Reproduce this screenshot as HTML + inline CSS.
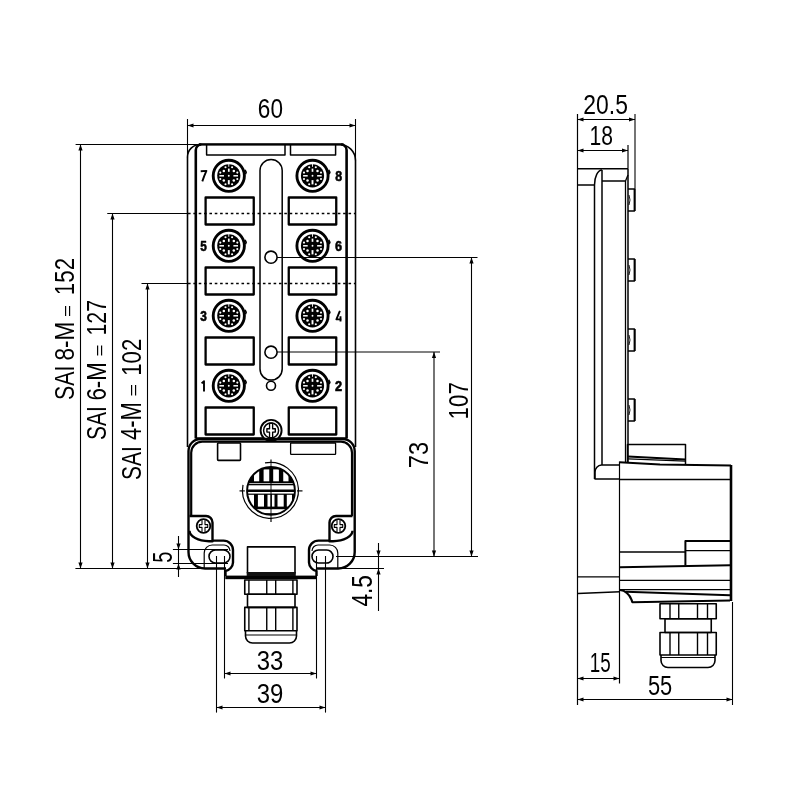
<!DOCTYPE html>
<html><head><meta charset="utf-8"><style>
html,body{margin:0;padding:0;background:#fff;width:800px;height:800px;overflow:hidden}
svg{display:block}
text{font-family:"Liberation Sans",sans-serif}
</style></head><body>
<svg width="800" height="800" viewBox="0 0 800 800">
<rect width="800" height="800" fill="#fff"/>
<g stroke="#000" fill="none" stroke-linecap="butt" stroke-linejoin="round" style="opacity:0.999">
<line x1="187.5" y1="119" x2="187.5" y2="158" stroke-width="1.1" />
<line x1="355.5" y1="119" x2="355.5" y2="161" stroke-width="1.1" />
<line x1="187.5" y1="125.5" x2="355.5" y2="125.5" stroke-width="1.1" />
<polygon points="187.50,125.50 193.50,123.40 193.50,127.60" fill="#000" stroke="none"/>
<polygon points="355.50,125.50 349.50,123.40 349.50,127.60" fill="#000" stroke="none"/>
<text transform="translate(259.00,99.00) scale(0.8106,1) translate(-1.39,19.47)" font-size="27.82" font-weight="normal" fill="#000" stroke="none">60</text>
<path d="M187.5,447 V157 A12.5,12.5 0 0 1 200,144.5 H339.5 A16,16 0 0 1 355.5,160.5 V447" stroke-width="1.6" fill="none" />
<line x1="199" y1="144.4" x2="343.5" y2="144.4" stroke-width="2.2" />
<path d="M195.8,438.5 V150 A5.5,5.5 0 0 1 201.3,144.5" stroke-width="2.6" fill="none" />
<path d="M346.6,438.5 V150 A5.5,5.5 0 0 0 341.1,144.5" stroke-width="2.6" fill="none" />
<path d="M206.6,144.4 V155 H285 V144.4" stroke-width="1.5" fill="none" />
<path d="M290.5,144.4 V155 H335.6 V144.4" stroke-width="1.5" fill="none" />
<path d="M260,170.6 A11.1,11.1 0 0 1 282.2,170.6 V369 A11.1,11.1 0 0 1 260,369 Z" stroke-width="1.5" fill="none" />
<rect x="205.6" y="197.5" width="48.150000000000006" height="27.0" rx="0" stroke-width="2.3" fill="none" />
<rect x="288.75" y="197.5" width="47.5" height="27.0" rx="0" stroke-width="2.3" fill="none" />
<rect x="205.6" y="267.5" width="48.150000000000006" height="27.0" rx="0" stroke-width="2.3" fill="none" />
<rect x="288.75" y="267.5" width="47.5" height="27.0" rx="0" stroke-width="2.3" fill="none" />
<rect x="205.6" y="337.5" width="48.150000000000006" height="27.0" rx="0" stroke-width="2.3" fill="none" />
<rect x="288.75" y="337.5" width="47.5" height="27.0" rx="0" stroke-width="2.3" fill="none" />
<rect x="205.6" y="407.5" width="48.150000000000006" height="27.0" rx="0" stroke-width="2.3" fill="none" />
<rect x="288.75" y="407.5" width="47.5" height="27.0" rx="0" stroke-width="2.3" fill="none" />
<line x1="107.25" y1="213.5" x2="187.5" y2="213.5" stroke-width="1.1" />
<line x1="188" y1="213.5" x2="355.25" y2="213.5" stroke-width="1.5" stroke-dasharray="2.6,2.75"/>
<line x1="141.5" y1="283.5" x2="187.5" y2="283.5" stroke-width="1.1" />
<line x1="188" y1="283.5" x2="355.25" y2="283.5" stroke-width="1.5" stroke-dasharray="2.6,2.75"/>
<circle cx="228.8" cy="175.8" r="15.6" stroke-width="2.9" fill="none" />
<path d="M245.0,169.8 l1.2,2.5 l-0.8,2" stroke-width="1.6" fill="none" />
<circle cx="228.8" cy="175.8" r="11.6" stroke-width="0" fill="#000" />
<rect x="227.95" y="168.60" width="1.70" height="3.20" fill="#fff" stroke="none"/>
<rect x="227.85" y="180.10" width="1.90" height="4.30" fill="#fff" stroke="none"/>
<rect x="219.40" y="175.05" width="4.60" height="1.50" fill="#fff" stroke="none"/>
<rect x="233.40" y="175.05" width="4.60" height="1.50" fill="#fff" stroke="none"/>
<rect x="228.35" y="164.00" width="0.90" height="2.80" fill="#fff" stroke="none"/>
<circle cx="223.80" cy="171.00" r="1.25" fill="#fff" stroke="none"/>
<circle cx="233.80" cy="171.00" r="1.25" fill="#fff" stroke="none"/>
<circle cx="223.80" cy="180.60" r="1.25" fill="#fff" stroke="none"/>
<circle cx="233.80" cy="180.60" r="1.25" fill="#fff" stroke="none"/>
<circle cx="228.80" cy="175.80" r="0.95" fill="#fff" stroke="none"/>
<circle cx="220.30" cy="172.60" r="1.05" fill="#fff" stroke="none"/>
<circle cx="237.30" cy="172.60" r="1.05" fill="#fff" stroke="none"/>
<circle cx="220.30" cy="179.00" r="1.05" fill="#fff" stroke="none"/>
<circle cx="237.30" cy="179.00" r="1.05" fill="#fff" stroke="none"/>
<circle cx="225.50" cy="167.30" r="1.05" fill="#fff" stroke="none"/>
<circle cx="232.10" cy="167.30" r="1.05" fill="#fff" stroke="none"/>
<circle cx="225.50" cy="184.30" r="1.05" fill="#fff" stroke="none"/>
<circle cx="232.10" cy="184.30" r="1.05" fill="#fff" stroke="none"/>
<circle cx="312.5" cy="175.8" r="15.6" stroke-width="2.9" fill="none" />
<path d="M328.7,169.8 l1.2,2.5 l-0.8,2" stroke-width="1.6" fill="none" />
<circle cx="312.5" cy="175.8" r="11.6" stroke-width="0" fill="#000" />
<rect x="311.65" y="168.60" width="1.70" height="3.20" fill="#fff" stroke="none"/>
<rect x="311.55" y="180.10" width="1.90" height="4.30" fill="#fff" stroke="none"/>
<rect x="303.10" y="175.05" width="4.60" height="1.50" fill="#fff" stroke="none"/>
<rect x="317.10" y="175.05" width="4.60" height="1.50" fill="#fff" stroke="none"/>
<rect x="312.05" y="164.00" width="0.90" height="2.80" fill="#fff" stroke="none"/>
<circle cx="307.50" cy="171.00" r="1.25" fill="#fff" stroke="none"/>
<circle cx="317.50" cy="171.00" r="1.25" fill="#fff" stroke="none"/>
<circle cx="307.50" cy="180.60" r="1.25" fill="#fff" stroke="none"/>
<circle cx="317.50" cy="180.60" r="1.25" fill="#fff" stroke="none"/>
<circle cx="312.50" cy="175.80" r="0.95" fill="#fff" stroke="none"/>
<circle cx="304.00" cy="172.60" r="1.05" fill="#fff" stroke="none"/>
<circle cx="321.00" cy="172.60" r="1.05" fill="#fff" stroke="none"/>
<circle cx="304.00" cy="179.00" r="1.05" fill="#fff" stroke="none"/>
<circle cx="321.00" cy="179.00" r="1.05" fill="#fff" stroke="none"/>
<circle cx="309.20" cy="167.30" r="1.05" fill="#fff" stroke="none"/>
<circle cx="315.80" cy="167.30" r="1.05" fill="#fff" stroke="none"/>
<circle cx="309.20" cy="184.30" r="1.05" fill="#fff" stroke="none"/>
<circle cx="315.80" cy="184.30" r="1.05" fill="#fff" stroke="none"/>
<path d="M200.7,171.20000000000002 L206.4,170.9 Q204.2,175.8 202.3,181.4" stroke-width="1.9" fill="none" />
<text transform="translate(335.55,170.50) scale(0.8093,1) translate(-0.46,10.75)" font-size="15.35" font-weight="bold" fill="#000" stroke="#000" stroke-width="0.60">8</text>
<circle cx="228.8" cy="245.8" r="15.6" stroke-width="2.9" fill="none" />
<path d="M245.0,239.8 l1.2,2.5 l-0.8,2" stroke-width="1.6" fill="none" />
<circle cx="228.8" cy="245.8" r="11.6" stroke-width="0" fill="#000" />
<rect x="227.95" y="238.60" width="1.70" height="3.20" fill="#fff" stroke="none"/>
<rect x="227.85" y="250.10" width="1.90" height="4.30" fill="#fff" stroke="none"/>
<rect x="219.40" y="245.05" width="4.60" height="1.50" fill="#fff" stroke="none"/>
<rect x="233.40" y="245.05" width="4.60" height="1.50" fill="#fff" stroke="none"/>
<rect x="228.35" y="234.00" width="0.90" height="2.80" fill="#fff" stroke="none"/>
<circle cx="223.80" cy="241.00" r="1.25" fill="#fff" stroke="none"/>
<circle cx="233.80" cy="241.00" r="1.25" fill="#fff" stroke="none"/>
<circle cx="223.80" cy="250.60" r="1.25" fill="#fff" stroke="none"/>
<circle cx="233.80" cy="250.60" r="1.25" fill="#fff" stroke="none"/>
<circle cx="228.80" cy="245.80" r="0.95" fill="#fff" stroke="none"/>
<circle cx="220.30" cy="242.60" r="1.05" fill="#fff" stroke="none"/>
<circle cx="237.30" cy="242.60" r="1.05" fill="#fff" stroke="none"/>
<circle cx="220.30" cy="249.00" r="1.05" fill="#fff" stroke="none"/>
<circle cx="237.30" cy="249.00" r="1.05" fill="#fff" stroke="none"/>
<circle cx="225.50" cy="237.30" r="1.05" fill="#fff" stroke="none"/>
<circle cx="232.10" cy="237.30" r="1.05" fill="#fff" stroke="none"/>
<circle cx="225.50" cy="254.30" r="1.05" fill="#fff" stroke="none"/>
<circle cx="232.10" cy="254.30" r="1.05" fill="#fff" stroke="none"/>
<circle cx="312.5" cy="245.8" r="15.6" stroke-width="2.9" fill="none" />
<path d="M328.7,239.8 l1.2,2.5 l-0.8,2" stroke-width="1.6" fill="none" />
<circle cx="312.5" cy="245.8" r="11.6" stroke-width="0" fill="#000" />
<rect x="311.65" y="238.60" width="1.70" height="3.20" fill="#fff" stroke="none"/>
<rect x="311.55" y="250.10" width="1.90" height="4.30" fill="#fff" stroke="none"/>
<rect x="303.10" y="245.05" width="4.60" height="1.50" fill="#fff" stroke="none"/>
<rect x="317.10" y="245.05" width="4.60" height="1.50" fill="#fff" stroke="none"/>
<rect x="312.05" y="234.00" width="0.90" height="2.80" fill="#fff" stroke="none"/>
<circle cx="307.50" cy="241.00" r="1.25" fill="#fff" stroke="none"/>
<circle cx="317.50" cy="241.00" r="1.25" fill="#fff" stroke="none"/>
<circle cx="307.50" cy="250.60" r="1.25" fill="#fff" stroke="none"/>
<circle cx="317.50" cy="250.60" r="1.25" fill="#fff" stroke="none"/>
<circle cx="312.50" cy="245.80" r="0.95" fill="#fff" stroke="none"/>
<circle cx="304.00" cy="242.60" r="1.05" fill="#fff" stroke="none"/>
<circle cx="321.00" cy="242.60" r="1.05" fill="#fff" stroke="none"/>
<circle cx="304.00" cy="249.00" r="1.05" fill="#fff" stroke="none"/>
<circle cx="321.00" cy="249.00" r="1.05" fill="#fff" stroke="none"/>
<circle cx="309.20" cy="237.30" r="1.05" fill="#fff" stroke="none"/>
<circle cx="315.80" cy="237.30" r="1.05" fill="#fff" stroke="none"/>
<circle cx="309.20" cy="254.30" r="1.05" fill="#fff" stroke="none"/>
<circle cx="315.80" cy="254.30" r="1.05" fill="#fff" stroke="none"/>
<text transform="translate(200.55,240.70) scale(0.7867,1) translate(-0.45,10.35)" font-size="15.00" font-weight="bold" fill="#000" stroke="#000" stroke-width="0.60">5</text>
<text transform="translate(335.55,240.50) scale(0.8260,1) translate(-0.54,10.75)" font-size="15.35" font-weight="bold" fill="#000" stroke="#000" stroke-width="0.60">6</text>
<circle cx="228.8" cy="315.8" r="15.6" stroke-width="2.9" fill="none" />
<path d="M245.0,309.8 l1.2,2.5 l-0.8,2" stroke-width="1.6" fill="none" />
<circle cx="228.8" cy="315.8" r="11.6" stroke-width="0" fill="#000" />
<rect x="227.95" y="308.60" width="1.70" height="3.20" fill="#fff" stroke="none"/>
<rect x="227.85" y="320.10" width="1.90" height="4.30" fill="#fff" stroke="none"/>
<rect x="219.40" y="315.05" width="4.60" height="1.50" fill="#fff" stroke="none"/>
<rect x="233.40" y="315.05" width="4.60" height="1.50" fill="#fff" stroke="none"/>
<rect x="228.35" y="304.00" width="0.90" height="2.80" fill="#fff" stroke="none"/>
<circle cx="223.80" cy="311.00" r="1.25" fill="#fff" stroke="none"/>
<circle cx="233.80" cy="311.00" r="1.25" fill="#fff" stroke="none"/>
<circle cx="223.80" cy="320.60" r="1.25" fill="#fff" stroke="none"/>
<circle cx="233.80" cy="320.60" r="1.25" fill="#fff" stroke="none"/>
<circle cx="228.80" cy="315.80" r="0.95" fill="#fff" stroke="none"/>
<circle cx="220.30" cy="312.60" r="1.05" fill="#fff" stroke="none"/>
<circle cx="237.30" cy="312.60" r="1.05" fill="#fff" stroke="none"/>
<circle cx="220.30" cy="319.00" r="1.05" fill="#fff" stroke="none"/>
<circle cx="237.30" cy="319.00" r="1.05" fill="#fff" stroke="none"/>
<circle cx="225.50" cy="307.30" r="1.05" fill="#fff" stroke="none"/>
<circle cx="232.10" cy="307.30" r="1.05" fill="#fff" stroke="none"/>
<circle cx="225.50" cy="324.30" r="1.05" fill="#fff" stroke="none"/>
<circle cx="232.10" cy="324.30" r="1.05" fill="#fff" stroke="none"/>
<circle cx="312.5" cy="315.8" r="15.6" stroke-width="2.9" fill="none" />
<path d="M328.7,309.8 l1.2,2.5 l-0.8,2" stroke-width="1.6" fill="none" />
<circle cx="312.5" cy="315.8" r="11.6" stroke-width="0" fill="#000" />
<rect x="311.65" y="308.60" width="1.70" height="3.20" fill="#fff" stroke="none"/>
<rect x="311.55" y="320.10" width="1.90" height="4.30" fill="#fff" stroke="none"/>
<rect x="303.10" y="315.05" width="4.60" height="1.50" fill="#fff" stroke="none"/>
<rect x="317.10" y="315.05" width="4.60" height="1.50" fill="#fff" stroke="none"/>
<rect x="312.05" y="304.00" width="0.90" height="2.80" fill="#fff" stroke="none"/>
<circle cx="307.50" cy="311.00" r="1.25" fill="#fff" stroke="none"/>
<circle cx="317.50" cy="311.00" r="1.25" fill="#fff" stroke="none"/>
<circle cx="307.50" cy="320.60" r="1.25" fill="#fff" stroke="none"/>
<circle cx="317.50" cy="320.60" r="1.25" fill="#fff" stroke="none"/>
<circle cx="312.50" cy="315.80" r="0.95" fill="#fff" stroke="none"/>
<circle cx="304.00" cy="312.60" r="1.05" fill="#fff" stroke="none"/>
<circle cx="321.00" cy="312.60" r="1.05" fill="#fff" stroke="none"/>
<circle cx="304.00" cy="319.00" r="1.05" fill="#fff" stroke="none"/>
<circle cx="321.00" cy="319.00" r="1.05" fill="#fff" stroke="none"/>
<circle cx="309.20" cy="307.30" r="1.05" fill="#fff" stroke="none"/>
<circle cx="315.80" cy="307.30" r="1.05" fill="#fff" stroke="none"/>
<circle cx="309.20" cy="324.30" r="1.05" fill="#fff" stroke="none"/>
<circle cx="315.80" cy="324.30" r="1.05" fill="#fff" stroke="none"/>
<text transform="translate(200.55,310.70) scale(0.8060,1) translate(-0.37,10.35)" font-size="14.79" font-weight="bold" fill="#000" stroke="#000" stroke-width="0.60">3</text>
<path d="M339.9,310.8 L336.4,319.40000000000003 H341.6 M340.5,316.3 V321.5" stroke-width="1.9" fill="none" />
<circle cx="228.8" cy="385.8" r="15.6" stroke-width="2.9" fill="none" />
<path d="M245.0,379.8 l1.2,2.5 l-0.8,2" stroke-width="1.6" fill="none" />
<circle cx="228.8" cy="385.8" r="11.6" stroke-width="0" fill="#000" />
<rect x="227.95" y="378.60" width="1.70" height="3.20" fill="#fff" stroke="none"/>
<rect x="227.85" y="390.10" width="1.90" height="4.30" fill="#fff" stroke="none"/>
<rect x="219.40" y="385.05" width="4.60" height="1.50" fill="#fff" stroke="none"/>
<rect x="233.40" y="385.05" width="4.60" height="1.50" fill="#fff" stroke="none"/>
<rect x="228.35" y="374.00" width="0.90" height="2.80" fill="#fff" stroke="none"/>
<circle cx="223.80" cy="381.00" r="1.25" fill="#fff" stroke="none"/>
<circle cx="233.80" cy="381.00" r="1.25" fill="#fff" stroke="none"/>
<circle cx="223.80" cy="390.60" r="1.25" fill="#fff" stroke="none"/>
<circle cx="233.80" cy="390.60" r="1.25" fill="#fff" stroke="none"/>
<circle cx="228.80" cy="385.80" r="0.95" fill="#fff" stroke="none"/>
<circle cx="220.30" cy="382.60" r="1.05" fill="#fff" stroke="none"/>
<circle cx="237.30" cy="382.60" r="1.05" fill="#fff" stroke="none"/>
<circle cx="220.30" cy="389.00" r="1.05" fill="#fff" stroke="none"/>
<circle cx="237.30" cy="389.00" r="1.05" fill="#fff" stroke="none"/>
<circle cx="225.50" cy="377.30" r="1.05" fill="#fff" stroke="none"/>
<circle cx="232.10" cy="377.30" r="1.05" fill="#fff" stroke="none"/>
<circle cx="225.50" cy="394.30" r="1.05" fill="#fff" stroke="none"/>
<circle cx="232.10" cy="394.30" r="1.05" fill="#fff" stroke="none"/>
<circle cx="312.5" cy="385.8" r="15.6" stroke-width="2.9" fill="none" />
<path d="M328.7,379.8 l1.2,2.5 l-0.8,2" stroke-width="1.6" fill="none" />
<circle cx="312.5" cy="385.8" r="11.6" stroke-width="0" fill="#000" />
<rect x="311.65" y="378.60" width="1.70" height="3.20" fill="#fff" stroke="none"/>
<rect x="311.55" y="390.10" width="1.90" height="4.30" fill="#fff" stroke="none"/>
<rect x="303.10" y="385.05" width="4.60" height="1.50" fill="#fff" stroke="none"/>
<rect x="317.10" y="385.05" width="4.60" height="1.50" fill="#fff" stroke="none"/>
<rect x="312.05" y="374.00" width="0.90" height="2.80" fill="#fff" stroke="none"/>
<circle cx="307.50" cy="381.00" r="1.25" fill="#fff" stroke="none"/>
<circle cx="317.50" cy="381.00" r="1.25" fill="#fff" stroke="none"/>
<circle cx="307.50" cy="390.60" r="1.25" fill="#fff" stroke="none"/>
<circle cx="317.50" cy="390.60" r="1.25" fill="#fff" stroke="none"/>
<circle cx="312.50" cy="385.80" r="0.95" fill="#fff" stroke="none"/>
<circle cx="304.00" cy="382.60" r="1.05" fill="#fff" stroke="none"/>
<circle cx="321.00" cy="382.60" r="1.05" fill="#fff" stroke="none"/>
<circle cx="304.00" cy="389.00" r="1.05" fill="#fff" stroke="none"/>
<circle cx="321.00" cy="389.00" r="1.05" fill="#fff" stroke="none"/>
<circle cx="309.20" cy="377.30" r="1.05" fill="#fff" stroke="none"/>
<circle cx="315.80" cy="377.30" r="1.05" fill="#fff" stroke="none"/>
<circle cx="309.20" cy="394.30" r="1.05" fill="#fff" stroke="none"/>
<circle cx="315.80" cy="394.30" r="1.05" fill="#fff" stroke="none"/>
<path d="M201.6,383.40000000000003 L204,381.2 V391.5" stroke-width="1.9" fill="none" />
<text transform="translate(335.55,380.50) scale(0.8228,1) translate(-0.55,10.90)" font-size="15.57" font-weight="bold" fill="#000" stroke="#000" stroke-width="0.60">2</text>
<circle cx="271" cy="257.2" r="6.1" stroke-width="1.6" fill="none" />
<circle cx="271" cy="352.2" r="6.1" stroke-width="1.6" fill="none" />
<circle cx="271" cy="385.8" r="4.5" stroke-width="1.6" fill="none" />
<line x1="277" y1="257.5" x2="477.5" y2="257.5" stroke-width="1.1" />
<line x1="277" y1="352" x2="440" y2="352" stroke-width="1.1" />
<line x1="195.6" y1="438.5" x2="346.5" y2="438.5" stroke-width="2.4" />
<circle cx="271.1" cy="430.4" r="10.5" stroke-width="1.9" fill="#fff" />
<circle cx="271.1" cy="430.4" r="7.5" stroke-width="1.5" fill="none" />
<path d="M269.6,423.2 H272.6 V428.7 H275.3 V432.09999999999997 H272.6 V437.59999999999997 H269.6 V432.09999999999997 H266.90000000000003 V428.7 H269.6 Z" stroke-width="1.4" fill="#fff" />
<line x1="271.1" y1="424" x2="271.1" y2="437" stroke-width="0.8" stroke="#fff"/>
<path d="M188.5,552 V451 A12,12 0 0 1 200.5,439 H342.7 A12,12 0 0 1 354.7,451 V552" stroke-width="2.4" fill="none" />
<path d="M191.2,516 V452.7 A11,11 0 0 1 202.2,441.7 H341 A11,11 0 0 1 352,452.7 V516" stroke-width="2.2" fill="none" />
<rect x="217.6" y="443" width="22.900000000000006" height="17.399999999999977" rx="0.8" stroke-width="1.6" fill="none" />
<rect x="290.6" y="443" width="45.0" height="11.399999999999977" rx="0.6" stroke-width="1.3" fill="none" />
<clipPath id="cc"><circle cx="271" cy="490.9" r="23"/></clipPath>
<circle cx="271" cy="490.9" r="23.6" stroke-width="2.6" fill="#000" />
<g clip-path="url(#cc)" fill="#fff" stroke="none">
<rect x="254" y="469.4" width="5.199999999999989" height="11.900000000000034"/>
<rect x="263.6" y="469.4" width="5.649999999999977" height="11.900000000000034"/>
<rect x="273.2" y="469.4" width="5.699999999999989" height="11.900000000000034"/>
<rect x="283.25" y="469.4" width="5.25" height="11.900000000000034"/>
<rect x="240" y="485.3" width="62" height="4.2"/>
<rect x="240" y="483.0" width="62" height="0.9" fill="#ccc"/>
<rect x="240" y="492.0" width="62" height="1.6"/>
<rect x="248" y="494.8" width="6" height="11.800000000000011"/>
<rect x="257.9" y="494.8" width="6.100000000000023" height="11.800000000000011"/>
<rect x="267.5" y="494.8" width="3.0" height="11.800000000000011"/>
<rect x="271.9" y="494.8" width="2.6000000000000227" height="11.800000000000011"/>
<rect x="277.5" y="494.8" width="6.199999999999989" height="11.800000000000011"/>
<rect x="286.8" y="494.8" width="5.199999999999989" height="11.800000000000011"/>
<rect x="240" y="509.2" width="62" height="4"/>
</g>
<path d="M265,462.9 A28,28 0 1 1 243,484.9" stroke-width="1.2" fill="none" />
<line x1="271" y1="459.4" x2="271" y2="463.8" stroke-width="1.2" />
<line x1="271" y1="518" x2="271" y2="522" stroke-width="1.2" />
<line x1="239.5" y1="490.9" x2="244.8" y2="490.9" stroke-width="1.2" />
<line x1="297" y1="490.9" x2="302.5" y2="490.9" stroke-width="1.2" />
<line x1="271" y1="464" x2="271" y2="518" stroke-width="0.9" />
<g id="ls">
<path d="M189.5,516 H206 A6.5,6.5 0 0 1 212.5,522.5 V541.2 H209 A20,10.5 0 0 1 189.5,530.7" stroke-width="2.4" fill="none" />
<circle cx="203.5" cy="526" r="6.8" stroke-width="1.8" fill="#fff" />
<path d="M202.0,519.5 H205.0 V524.6 H207.716 V527.4 H205.0 V532.5 H202.0 V527.4 H199.284 V524.6 H202.0 Z" stroke-width="1.1" fill="#fff" />
<path d="M212.5,540.6 H223.5 A9.5,9.5 0 0 1 233,550.1 V562.5 A9,9 0 0 1 225.5,571 V576" stroke-width="2.4" fill="none" />
<path d="M204.2,568 V553 A8,8 0 0 1 212.2,545 H224 A6,6 0 0 1 230,551" stroke-width="1.2" fill="none" />
<path d="M215.5,550 H223.5 A6.5,6.5 0 0 1 223.5,563 H215.5 A6.5,6.5 0 0 1 215.5,550 Z" stroke-width="1.6" fill="none" />
</g>
<use href="#ls" transform="translate(542,0) scale(-1,1)"/>
<path d="M188.5,552 A16.5,16.5 0 0 0 205,568.5 H226" stroke-width="2.4" fill="none" />
<path d="M354.7,552 A16.5,16.5 0 0 1 338.2,568.5 H316" stroke-width="2.4" fill="none" />
<rect x="247.5" y="546.9" width="47.5" height="26.100000000000023" rx="0" stroke-width="1.6" fill="none" />
<rect x="225.3" y="575.6" width="91.5" height="3.6000000000000227" rx="0" stroke-width="0" fill="#000" />
<rect x="246.7" y="572" width="49.1" height="4" fill="#111" stroke="none"/>
<rect x="244.75" y="580" width="52.25" height="14.299999999999955" rx="0" stroke-width="1.6" fill="none" />
<line x1="248.9" y1="580" x2="248.9" y2="594.3" stroke-width="1.4" />
<line x1="266.75" y1="580" x2="266.75" y2="594.3" stroke-width="1.4" />
<line x1="275.7" y1="580" x2="275.7" y2="594.3" stroke-width="1.4" />
<line x1="292.9" y1="580" x2="292.9" y2="594.3" stroke-width="1.4" />
<rect x="247.5" y="594.3" width="47.5" height="13.100000000000023" rx="0" stroke-width="1.6" fill="none" />
<rect x="244.75" y="607.4" width="52.25" height="23.350000000000023" rx="0" stroke-width="1.6" fill="none" />
<line x1="248.9" y1="607.4" x2="248.9" y2="630.75" stroke-width="1.4" />
<line x1="266.75" y1="607.4" x2="266.75" y2="630.75" stroke-width="1.4" />
<line x1="275.7" y1="607.4" x2="275.7" y2="630.75" stroke-width="1.4" />
<line x1="292.9" y1="607.4" x2="292.9" y2="630.75" stroke-width="1.4" />
<path d="M245.5,630.75 V636 A7,7 0 0 0 252.5,643 H289.5 A7,7 0 0 0 296.5,636 V630.75" stroke-width="1.6" fill="none" />
<line x1="245.5" y1="635" x2="296.5" y2="635" stroke-width="1.2" />
<line x1="75.6" y1="144.5" x2="199" y2="144.5" stroke-width="1.1" />
<line x1="75.4" y1="568.5" x2="205" y2="568.5" stroke-width="1.1" />
<line x1="80.5" y1="144.5" x2="80.5" y2="568.5" stroke-width="1.1" />
<polygon points="80.50,144.50 78.40,150.50 82.60,150.50" fill="#000" stroke="none"/>
<polygon points="80.50,568.50 78.40,562.50 82.60,562.50" fill="#000" stroke="none"/>
<line x1="112.5" y1="213.5" x2="112.5" y2="568.5" stroke-width="1.1" />
<polygon points="112.50,213.50 110.40,219.50 114.60,219.50" fill="#000" stroke="none"/>
<polygon points="112.50,568.50 110.40,562.50 114.60,562.50" fill="#000" stroke="none"/>
<line x1="147.5" y1="283.5" x2="147.5" y2="568.5" stroke-width="1.1" />
<polygon points="147.50,283.50 145.40,289.50 149.60,289.50" fill="#000" stroke="none"/>
<polygon points="147.50,568.50 145.40,562.50 149.60,562.50" fill="#000" stroke="none"/>
<text transform="translate(54.00,399.00) rotate(-90) scale(0.7581,1) translate(-1.27,19.72)" font-size="28.17" font-weight="normal" fill="#000" stroke="none">SAI</text>
<text transform="translate(54.00,359.50) rotate(-90) scale(0.8013,1) translate(-1.27,19.72)" font-size="28.17" font-weight="normal" fill="#000" stroke="none">8-M</text>
<text transform="translate(64.50,316.00) rotate(-90) scale(1.1996,1) translate(-0.86,8.42)" font-size="17.19" font-weight="normal" fill="#000" stroke="none">=</text>
<text transform="translate(54.00,293.50) rotate(-90) scale(0.7953,1) translate(-2.11,19.72)" font-size="28.17" font-weight="normal" fill="#000" stroke="none">152</text>
<text transform="translate(86.50,439.00) rotate(-90) scale(0.7652,1) translate(-1.24,19.23)" font-size="27.46" font-weight="normal" fill="#000" stroke="none">SAI</text>
<text transform="translate(86.50,399.50) rotate(-90) scale(0.8129,1) translate(-1.37,19.23)" font-size="27.46" font-weight="normal" fill="#000" stroke="none">6-M</text>
<text transform="translate(97.00,355.50) rotate(-90) scale(1.3196,1) translate(-0.78,7.66)" font-size="15.63" font-weight="normal" fill="#000" stroke="none">=</text>
<text transform="translate(86.50,334.00) rotate(-90) scale(0.7692,1) translate(-2.09,19.50)" font-size="27.86" font-weight="normal" fill="#000" stroke="none">127</text>
<text transform="translate(121.00,479.00) rotate(-90) scale(0.7461,1) translate(-1.27,19.72)" font-size="28.17" font-weight="normal" fill="#000" stroke="none">SAI</text>
<text transform="translate(121.00,439.50) rotate(-90) scale(0.7584,1) translate(-0.72,20.00)" font-size="28.99" font-weight="normal" fill="#000" stroke="none">4-M</text>
<text transform="translate(131.50,395.50) rotate(-90) scale(1.3856,1) translate(-0.78,7.66)" font-size="15.63" font-weight="normal" fill="#000" stroke="none">=</text>
<text transform="translate(121.00,374.00) rotate(-90) scale(0.7838,1) translate(-2.11,19.72)" font-size="28.17" font-weight="normal" fill="#000" stroke="none">102</text>
<line x1="178.5" y1="536" x2="178.5" y2="577" stroke-width="1.1" />
<line x1="172.9" y1="549.5" x2="228" y2="549.5" stroke-width="1.1" />
<line x1="172.9" y1="563.5" x2="228" y2="563.5" stroke-width="1.1" />
<polygon points="178.50,549.50 176.40,543.50 180.60,543.50" fill="#000" stroke="none"/>
<polygon points="178.50,563.50 176.40,569.50 180.60,569.50" fill="#000" stroke="none"/>
<text transform="translate(152.00,562.00) rotate(-90) scale(0.7000,1) translate(-1.14,19.71)" font-size="28.57" font-weight="normal" fill="#000" stroke="none">5</text>
<line x1="434" y1="352" x2="434" y2="556.5" stroke-width="1.1" />
<polygon points="434.00,352.00 431.90,358.00 436.10,358.00" fill="#000" stroke="none"/>
<polygon points="434.00,556.50 431.90,550.50 436.10,550.50" fill="#000" stroke="none"/>
<line x1="471.5" y1="257.5" x2="471.5" y2="556.5" stroke-width="1.1" />
<polygon points="471.50,257.50 469.40,263.50 473.60,263.50" fill="#000" stroke="none"/>
<polygon points="471.50,556.50 469.40,550.50 473.60,550.50" fill="#000" stroke="none"/>
<line x1="336" y1="556.5" x2="478" y2="556.5" stroke-width="1.1" />
<text transform="translate(448.00,417.80) rotate(-90) scale(0.7953,1) translate(-2.11,19.72)" font-size="28.17" font-weight="normal" fill="#000" stroke="none">107</text>
<text transform="translate(408.00,467.00) rotate(-90) scale(0.8394,1) translate(-1.41,19.72)" font-size="28.17" font-weight="normal" fill="#000" stroke="none">73</text>
<line x1="378.5" y1="543" x2="378.5" y2="611" stroke-width="1.1" />
<line x1="338" y1="568.5" x2="384" y2="568.5" stroke-width="1.1" />
<polygon points="378.50,556.50 376.40,550.50 380.60,550.50" fill="#000" stroke="none"/>
<polygon points="378.50,568.50 376.40,574.50 380.60,574.50" fill="#000" stroke="none"/>
<text transform="translate(352.00,606.00) rotate(-90) scale(0.7925,1) translate(-0.71,19.71)" font-size="28.57" font-weight="normal" fill="#000" stroke="none">4.5</text>
<line x1="224.5" y1="556" x2="224.5" y2="678.5" stroke-width="1.1" />
<line x1="316.5" y1="556" x2="316.5" y2="678.5" stroke-width="1.1" />
<line x1="224.5" y1="673.5" x2="316.5" y2="673.5" stroke-width="1.1" />
<polygon points="224.50,673.50 230.50,671.40 230.50,675.60" fill="#000" stroke="none"/>
<polygon points="316.50,673.50 310.50,671.40 310.50,675.60" fill="#000" stroke="none"/>
<text transform="translate(257.75,651.40) scale(0.8839,1) translate(-1.08,18.93)" font-size="27.04" font-weight="normal" fill="#000" stroke="none">33</text>
<line x1="216.5" y1="556" x2="216.5" y2="712.6" stroke-width="1.1" />
<line x1="325.5" y1="556" x2="325.5" y2="712.6" stroke-width="1.1" />
<line x1="216.5" y1="707.5" x2="325.5" y2="707.5" stroke-width="1.1" />
<polygon points="216.50,707.50 222.50,705.40 222.50,709.60" fill="#000" stroke="none"/>
<polygon points="325.50,707.50 319.50,705.40 319.50,709.60" fill="#000" stroke="none"/>
<text transform="translate(257.75,683.75) scale(0.8816,1) translate(-1.08,18.98)" font-size="27.11" font-weight="normal" fill="#000" stroke="none">39</text>
<line x1="577.5" y1="114" x2="577.5" y2="705" stroke-width="1.2" />
<line x1="635" y1="114" x2="635" y2="189" stroke-width="1.1" />
<line x1="628" y1="145" x2="628" y2="168.8" stroke-width="1.2" />
<line x1="577.5" y1="119.5" x2="635" y2="119.5" stroke-width="1.1" />
<polygon points="577.50,119.50 583.50,117.40 583.50,121.60" fill="#000" stroke="none"/>
<polygon points="635.00,119.50 629.00,117.40 629.00,121.60" fill="#000" stroke="none"/>
<text transform="translate(584.50,94.50) scale(0.8342,1) translate(-1.37,19.23)" font-size="27.46" font-weight="normal" fill="#000" stroke="none">20.5</text>
<line x1="577.5" y1="150.5" x2="628" y2="150.5" stroke-width="1.1" />
<polygon points="577.50,150.50 583.50,148.40 583.50,152.60" fill="#000" stroke="none"/>
<polygon points="628.00,150.50 622.00,148.40 622.00,152.60" fill="#000" stroke="none"/>
<text transform="translate(591.00,126.50) scale(0.7887,1) translate(-2.01,18.73)" font-size="26.76" font-weight="normal" fill="#000" stroke="none">18</text>
<line x1="577.8" y1="168.8" x2="628" y2="168.8" stroke-width="1.5" />
<line x1="577.8" y1="185" x2="594.5" y2="185" stroke-width="1.5" />
<path d="M594.5,479 V185 A7.5,15 0 0 1 602,170" stroke-width="1.5" fill="none" />
<line x1="602" y1="170" x2="602" y2="465" stroke-width="1.5" />
<line x1="602" y1="181" x2="625.5" y2="181" stroke-width="1.5" />
<path d="M625.5,181 L628,175" stroke-width="1.3" fill="none" />
<line x1="625.5" y1="181" x2="625.5" y2="462" stroke-width="1.3" />
<line x1="628" y1="168.8" x2="628" y2="462" stroke-width="1.5" />
<path d="M628,189 H634.5 V211 H628" stroke-width="1.3" fill="none" />
<line x1="634.7" y1="189" x2="634.7" y2="211" stroke-width="2" />
<path d="M629,195 Q631,200 629,205" stroke-width="0.9" fill="none" />
<path d="M628,259 H634.5 V281 H628" stroke-width="1.3" fill="none" />
<line x1="634.7" y1="259" x2="634.7" y2="281" stroke-width="2" />
<path d="M629,265 Q631,270 629,275" stroke-width="0.9" fill="none" />
<path d="M628,329 H634.5 V351 H628" stroke-width="1.3" fill="none" />
<line x1="634.7" y1="329" x2="634.7" y2="351" stroke-width="2" />
<path d="M629,335 Q631,340 629,345" stroke-width="0.9" fill="none" />
<path d="M628,399 H634.5 V421 H628" stroke-width="1.3" fill="none" />
<line x1="634.7" y1="399" x2="634.7" y2="421" stroke-width="2" />
<path d="M629,405 Q631,410 629,415" stroke-width="0.9" fill="none" />
<path d="M627.5,462 V444.4 H685.5 V464.5" stroke-width="1.5" fill="none" />
<path d="M628,456.5 L685.5,459.6" stroke-width="2.0" fill="none" />
<path d="M628,458.8 L685.5,461.2" stroke-width="1.3" fill="none" />
<path d="M601.5,465 H620 M601.5,465 A7,7 0 0 0 595,472 V479 H620" stroke-width="1.5" fill="none" />
<path d="M619.5,462.3 L660,464.5 L731,465.5" stroke-width="2" fill="none" />
<line x1="731" y1="465" x2="731" y2="601" stroke-width="2.6" />
<line x1="619.5" y1="461.5" x2="619.5" y2="683.5" stroke-width="1.2" />
<line x1="620" y1="479.5" x2="731" y2="479.5" stroke-width="1.5" />
<line x1="620" y1="552" x2="685.4" y2="552" stroke-width="1.3" />
<path d="M685.4,565.5 V541 H731" stroke-width="2" fill="none" />
<line x1="685.4" y1="550.6" x2="731" y2="550.6" stroke-width="1.3" />
<path d="M620,567.25 L730,565.15" stroke-width="2" fill="none" />
<line x1="620" y1="580.4" x2="730" y2="580.4" stroke-width="1.3" />
<line x1="620" y1="589.7" x2="730" y2="589.7" stroke-width="1.3" />
<path d="M620,590 Q629,591 632.4,602.25 L730,600.5" stroke-width="2.2" fill="none" />
<path d="M626,591.75 L730,595.25" stroke-width="2" fill="none" />
<line x1="577.8" y1="576.9" x2="620" y2="576.9" stroke-width="1.3" />
<path d="M577.8,593.5 L620,591.75" stroke-width="1.3" fill="none" />
<rect x="660" y="603.75" width="56.25" height="15.0" rx="0" stroke-width="1.6" fill="none" />
<line x1="670" y1="603.75" x2="670" y2="618.75" stroke-width="1.4" />
<line x1="678.75" y1="603.75" x2="678.75" y2="618.75" stroke-width="1.4" />
<line x1="697.5" y1="603.75" x2="697.5" y2="618.75" stroke-width="1.4" />
<line x1="707.5" y1="603.75" x2="707.5" y2="618.75" stroke-width="1.4" />
<rect x="665" y="618.75" width="46.25" height="13.75" rx="0" stroke-width="1.6" fill="none" />
<rect x="660" y="632.5" width="56.25" height="22.5" rx="0" stroke-width="1.6" fill="none" />
<line x1="670" y1="632.5" x2="670" y2="655" stroke-width="1.4" />
<line x1="678.75" y1="632.5" x2="678.75" y2="655" stroke-width="1.4" />
<line x1="697.5" y1="632.5" x2="697.5" y2="655" stroke-width="1.4" />
<line x1="707.5" y1="632.5" x2="707.5" y2="655" stroke-width="1.4" />
<path d="M661,655 V660.5 A7,7 0 0 0 668,667.5 H708 A7,7 0 0 0 715,660.5 V655" stroke-width="1.6" fill="none" />
<line x1="661" y1="657.5" x2="715" y2="657.5" stroke-width="1.2" />
<line x1="577.5" y1="678.5" x2="619.5" y2="678.5" stroke-width="1.1" />
<polygon points="577.50,678.50 583.50,676.40 583.50,680.60" fill="#000" stroke="none"/>
<polygon points="619.50,678.50 613.50,676.40 613.50,680.60" fill="#000" stroke="none"/>
<text transform="translate(591.25,653.75) scale(0.7035,1) translate(-2.01,18.48)" font-size="26.79" font-weight="normal" fill="#000" stroke="none">15</text>
<line x1="732.5" y1="602" x2="732.5" y2="705" stroke-width="1.1" />
<line x1="577.5" y1="699.5" x2="732.5" y2="699.5" stroke-width="1.1" />
<polygon points="577.50,699.50 583.50,697.40 583.50,701.60" fill="#000" stroke="none"/>
<polygon points="732.50,699.50 726.50,697.40 726.50,701.60" fill="#000" stroke="none"/>
<text transform="translate(648.75,676.00) scale(0.7842,1) translate(-1.11,19.22)" font-size="27.86" font-weight="normal" fill="#000" stroke="none">55</text>
</g>
</svg>
</body></html>
